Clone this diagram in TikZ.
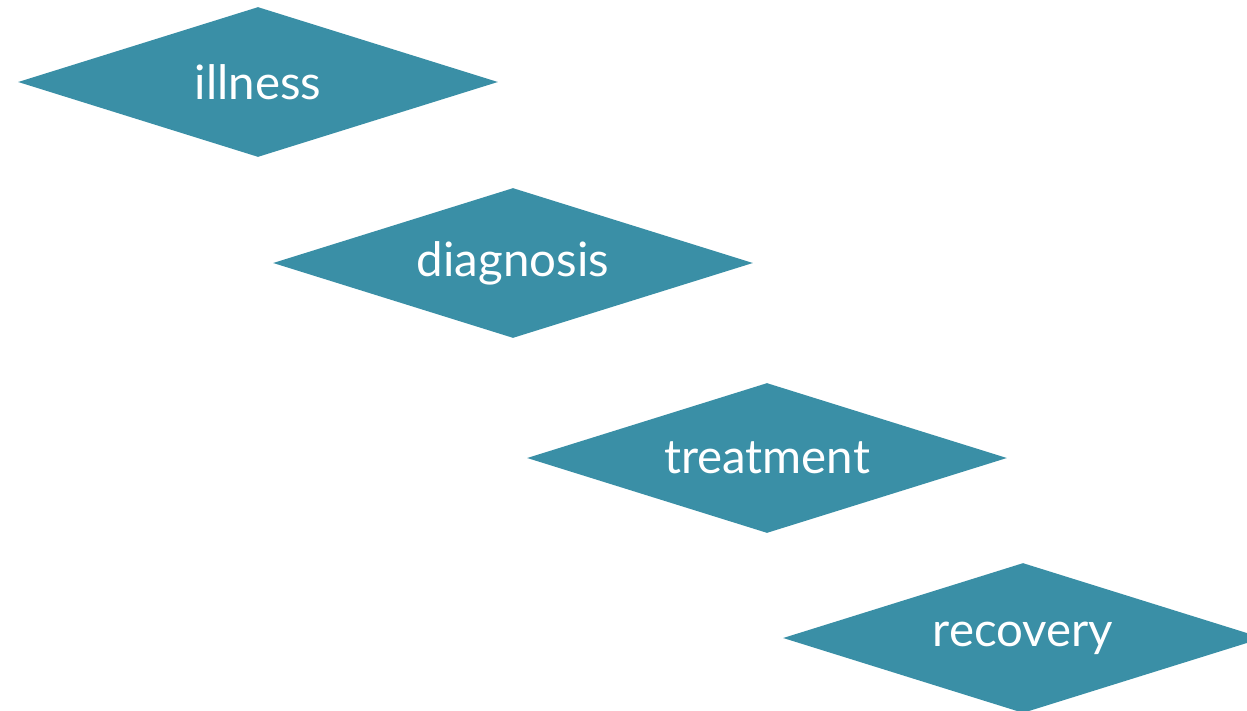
\documentclass[tikz,border=0pt]{standalone}
\usepackage{fontspec}
\setmainfont{Lato}
\usetikzlibrary{shapes.geometric}
\definecolor{steptea}{HTML}{3A8FA6}
\tikzset{
  stage/.style={diamond,aspect=3.2,fill=steptea,text=white,inner sep=0pt,
    minimum width=9.6cm,minimum height=3cm,font=\fontsize{27}{30}\selectfont},
}

\begin{document}
\begin{tikzpicture}[x=0.02cm,y=-0.02cm]
\useasboundingbox (0,0) rectangle (1247,710);
\clip (0,0) rectangle (1247,710);
\node[stage] (illness) at (258,82) {illness};
\node[stage] (diagnosis) at (513,263) {diagnosis};
\node[stage] (treatment) at (767,458) {treatment};
\node[stage] (recovery) at (1023,638) {recovery};
\end{tikzpicture}
\end{document}
